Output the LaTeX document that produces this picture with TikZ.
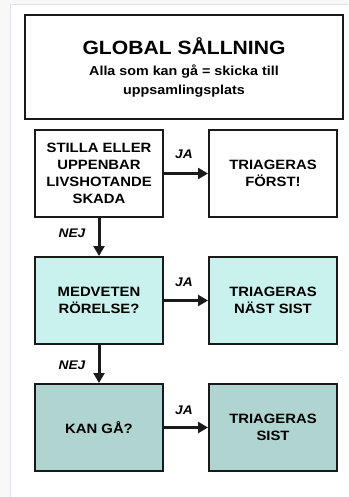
\documentclass[tikz,border=0pt]{standalone}
\usepackage{fontspec}
\setmainfont{Liberation Sans}[FakeStretch=1.1]
\usetikzlibrary{arrows.meta}

\definecolor{pagebg}{HTML}{F8F8F8}
\definecolor{frameline}{HTML}{D9E1F0}
\definecolor{cyanfill}{HTML}{C9F1ED}
\definecolor{tealfill}{HTML}{B0D4CF}
\definecolor{edge}{HTML}{1A1A1A}

\begin{document}
\begin{tikzpicture}[x=1pt, y=-1pt,
  box/.style={draw=edge, line width=2pt, minimum width=128pt, minimum height=87pt,
    inner sep=0pt, align=center, font=\bfseries\fontsize{13.5}{16.8}\selectfont},
  titlebox/.style={draw=edge, line width=2pt, minimum width=318pt, minimum height=104pt,
    inner sep=0pt, align=center, font=\bfseries\fontsize{13}{19}\selectfont},
  flow/.style={line width=3pt, edge, -{Triangle[length=10pt,width=11pt]}},
  lbl/.style={font=\bfseries\itshape\fontsize{12.5}{14}\selectfont, inner sep=0pt}
]
  % page with its frame
  \useasboundingbox (0,0) rectangle (348,497);
  \fill[pagebg] (0,0) rectangle (348,497);
  \fill[white] (10,5) rectangle (348,497);
  \draw[frameline, line width=1pt] (10,497) -- (10,5) -- (348,5);

  % heading
  \node[titlebox] (title) at (184,67)
    {{\fontsize{19.2}{19}\selectfont GLOBAL SÅLLNING}\\[2pt]
     Alla som kan gå = skicka till\\
     uppsamlingsplats};

  % decision steps and outcomes
  \node[box, fill=white] (q1) at (99,173.5) {STILLA ELLER\\UPPENBAR\\LIVSHOTANDE\\SKADA};
  \node[box, fill=white] (r1) at (273,173.5) {TRIAGERAS\\FÖRST!};
  \node[box, fill=cyanfill] (q2) at (99,300.5) {MEDVETEN\\RÖRELSE?};
  \node[box, fill=cyanfill] (r2) at (273,300.5) {TRIAGERAS\\NÄST SIST};
  \node[box, fill=tealfill] (q3) at (99,427.5) {KAN GÅ?};
  \node[box, fill=tealfill] (r3) at (273,427.5) {TRIAGERAS\\SIST};

  % connectors
  \draw[flow] (q1) -- (r1);
  \draw[flow] (q2) -- (r2);
  \draw[flow] (q3) -- (r3);
  \draw[flow] (q1) -- (q2);
  \draw[flow] (q2) -- (q3);

  % branch labels
  \node[lbl] (ja1) at (184,154) {JA};
  \node[lbl] (ja2) at (184,282) {JA};
  \node[lbl] (ja3) at (184,410) {JA};
  \node[lbl] (nej1) at (72,233) {NEJ};
  \node[lbl] (nej2) at (72,365) {NEJ};
\end{tikzpicture}
\end{document}
